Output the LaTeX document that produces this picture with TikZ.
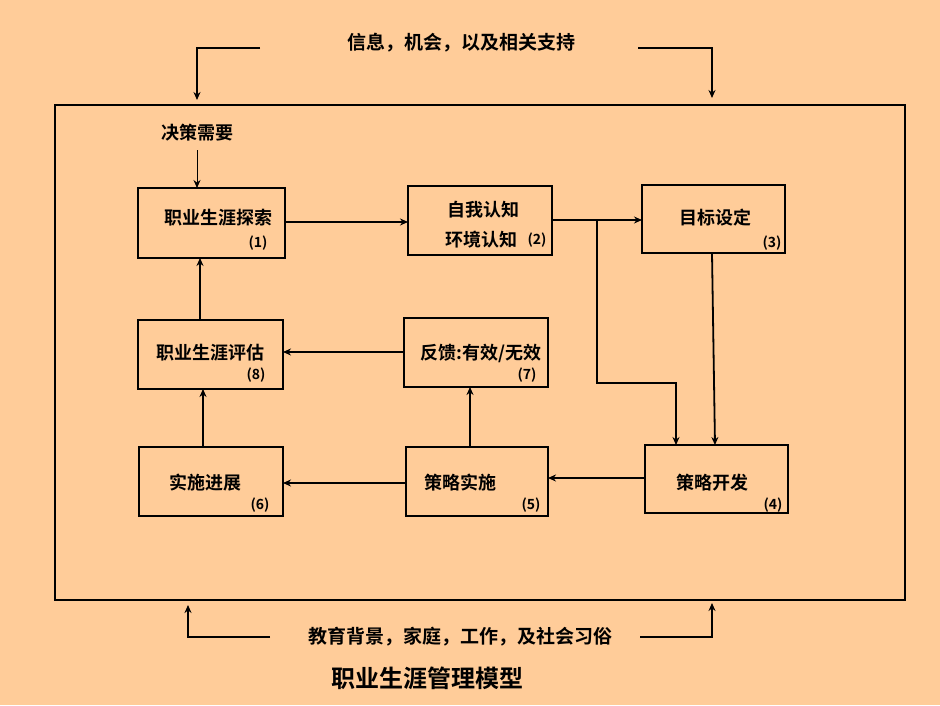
\documentclass[tikz,border=0pt]{standalone}
\usepackage{fontspec}
\newfontfamily\cjk{Noto Sans CJK SC}[BoldFont={Noto Sans CJK SC Bold}]
\usetikzlibrary{arrows.meta}
\definecolor{bg}{HTML}{FFCC99}
\begin{document}
\begin{tikzpicture}[x=1pt,y=-1pt,
  every node/.style={font=\cjk\bfseries\fontsize{18}{20}\selectfont,inner sep=0pt},
  box/.style={draw,line width=1.8pt,rectangle},
  arr/.style={line width=1.8pt,-{Stealth[length=8pt,width=7pt]}},
  ln/.style={line width=1.8pt},
  num/.style={font=\cjk\bfseries\fontsize{14}{16}\selectfont},
  side/.style={font=\cjk\bfseries\fontsize{19}{21}\selectfont}]
\fill[bg] (0,0) rectangle (940,705);
\useasboundingbox (0,0) rectangle (940,705);
\draw[ln] (55,105) rectangle (905,600);
% boxes
\draw[box] (138,188) rectangle (285,258);
\draw[box] (408,186) rectangle (552,255);
\draw[box] (642,185) rectangle (785,253);
\draw[box] (645,445) rectangle (788,513);
\draw[box] (406,447) rectangle (548,516);
\draw[box] (139,447) rectangle (283,516);
\draw[box] (404,318) rectangle (548,387);
\draw[box] (138,320) rectangle (283,389);
% texts
\node (t1) at (218,218) {职业生涯探索}; \node[num] (n1) at (258,243) {(1)};
\node (t2a) at (483,210) {自我认知}; \node (t2b) at (481,240) {环境认知}; \node[num] (n2) at (537,240) {(2)};
\node (t3) at (715,218) {目标设定}; \node[num] (n3) at (772,243) {(3)};
\node (t4) at (712,483) {策略开发}; \node[num] (n4) at (773,505) {(4)};
\node (t5) at (460,483) {策略实施}; \node[num] (n5) at (531,505) {(5)};
\node (t6) at (205,483) {实施进展}; \node[num] (n6) at (260,505) {(6)};
\node (t7) at (481,353) {反馈:有效/无效}; \node[num] (n7) at (527,375) {(7)};
\node (t8) at (210,353) {职业生涯评估}; \node[num] (n8) at (256,375) {(8)};
\node (d) at (197,133) {决策需要};
\node[side] (top) at (461,43) {信息，机会，以及相关支持};
\node[side] (bot) at (460,637) {教育背景，家庭，工作，及社会习俗};
\node[font=\cjk\bfseries\fontsize{24}{26}\selectfont] (title) at (427,678) {职业生涯管理模型};
% arrows
\draw[arr] (285,222) -- (408,222);
\draw[arr] (552,220) -- (642,220);
\draw[arr] (597,220) -- (597,383) -- (676,383) -- (676,445);
\draw[arr] (712,253) -- (715,445);
\draw[arr] (645,478) -- (548,478);
\draw[arr] (406,483) -- (283,483);
\draw[arr] (470,447) -- (470,387);
\draw[arr] (404,352) -- (283,352);
\draw[arr] (203,447) -- (203,389);
\draw[arr] (200,320) -- (200,258);
\draw[arr,line width=1pt] (197,150) -- (197,188);
\draw[arr] (260,48) -- (197,48) -- (197,100);
\draw[arr] (638,48) -- (712,48) -- (712,98);
\draw[arr] (270,637) -- (188,637) -- (188,605);
\draw[arr] (640,637) -- (712,637) -- (712,603);
\end{tikzpicture}
\end{document}
